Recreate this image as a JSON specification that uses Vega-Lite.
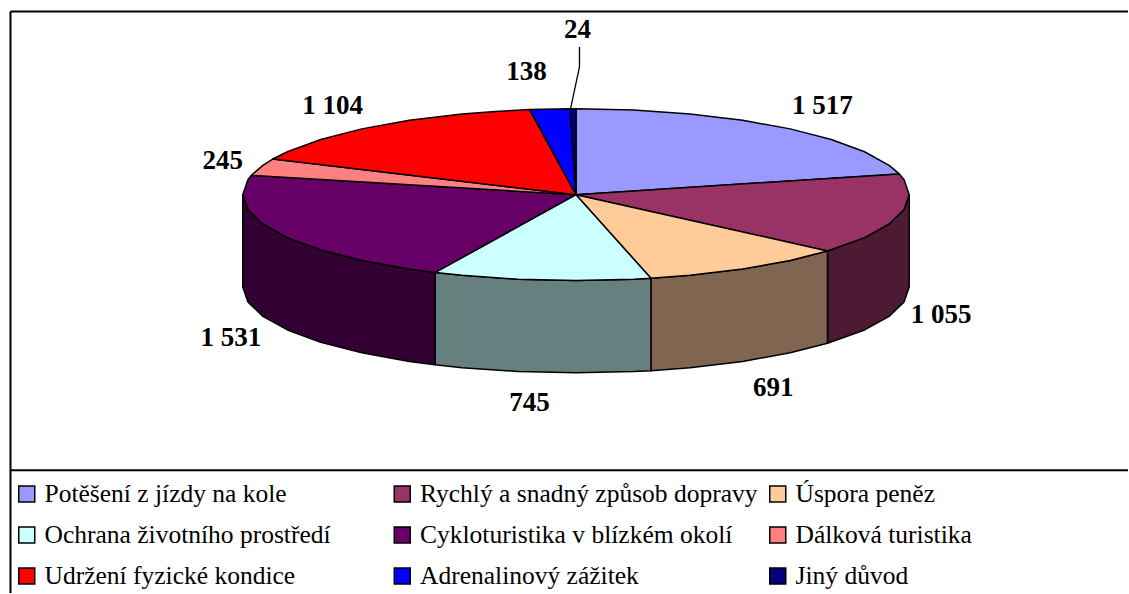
{"$schema":"https://vega.github.io/schema/vega-lite/v6.json","width":1129,"height":594,"padding":0,"autosize":{"type":"fit","contains":"padding"},"background":"white","config":{"view":{"stroke":null}},
"datasets":{
"frame":[{"u":-566,"v":183.5,"u2":552.5,"v2":183.5},{"u":-566,"v":183.5,"u2":-566,"v2":-399},{"u":-566,"v":-276,"u2":552.5,"v2":-276}],
"leader":[{"n":1,"u":3.5,"v":148},{"n":2,"u":3.5,"v":128},{"n":3,"u":-5.5,"v":86}],
"labels":[
{"slice":"Potěšení z jízdy na kole","value":1517,"label":"1 517","u":246.5,"v":80.5},
{"slice":"Rychlý a snadný způsob dopravy","value":1055,"label":"1 055","u":365.5,"v":-128.5},
{"slice":"Úspora peněz","value":691,"label":"691","u":197.5,"v":-201.5},
{"slice":"Ochrana životního prostředí","value":745,"label":"745","u":-46.5,"v":-216.5},
{"slice":"Cykloturistika v blízkém okolí","value":1531,"label":"1 531","u":-345.5,"v":-151.5},
{"slice":"Dálková turistika","value":245,"label":"245","u":-353.5,"v":25.5},
{"slice":"Udržení fyzické kondice","value":1104,"label":"1 104","u":-243.5,"v":80.5},
{"slice":"Adrenalinový zážitek","value":138,"label":"138","u":-49.5,"v":114.5},
{"slice":"Jiný důvod","value":24,"label":"24","u":1.5,"v":156.5}],
"walls":[
{"slice":"Rychlý a snadný způsob dopravy","n":1,"u":333.5,"v":0},{"slice":"Rychlý a snadný způsob dopravy","n":2,"u":328.4,"v":-14.9},{"slice":"Rychlý a snadný způsob dopravy","n":3,"u":313.4,"v":-29.4},{"slice":"Rychlý a snadný způsob dopravy","n":4,"u":288.8,"v":-43},{"slice":"Rychlý a snadný způsob dopravy","n":5,"u":251.7,"v":-56.4},{"slice":"Rychlý a snadný způsob dopravy","n":6,"u":251.7,"v":-148.9},{"slice":"Rychlý a snadný způsob dopravy","n":7,"u":288.8,"v":-135.5},{"slice":"Rychlý a snadný způsob dopravy","n":8,"u":313.4,"v":-121.9},{"slice":"Rychlý a snadný způsob dopravy","n":9,"u":328.4,"v":-107.4},{"slice":"Rychlý a snadný způsob dopravy","n":10,"u":333.5,"v":-92.5},{"slice":"Rychlý a snadný způsob dopravy","n":11,"u":333.5,"v":0},
{"slice":"Úspora peněz","n":1,"u":251.7,"v":-56.4},{"slice":"Úspora peněz","n":2,"u":214.4,"v":-65.9},{"slice":"Úspora peněz","n":3,"u":166.8,"v":-74.5},{"slice":"Úspora peněz","n":4,"u":114.1,"v":-80.8},{"slice":"Úspora peněz","n":5,"u":75,"v":-83.8},{"slice":"Úspora peněz","n":6,"u":75,"v":-176.3},{"slice":"Úspora peněz","n":7,"u":114.1,"v":-173.3},{"slice":"Úspora peněz","n":8,"u":166.8,"v":-167},{"slice":"Úspora peněz","n":9,"u":214.4,"v":-158.4},{"slice":"Úspora peněz","n":10,"u":251.7,"v":-148.9},{"slice":"Úspora peněz","n":11,"u":251.7,"v":-56.4},
{"slice":"Ochrana životního prostředí","n":1,"u":75,"v":-83.8},{"slice":"Ochrana životního prostředí","n":2,"u":57.9,"v":-84.7},{"slice":"Ochrana životního prostředí","n":3,"u":0,"v":-86},{"slice":"Ochrana životního prostředí","n":4,"u":-57.9,"v":-84.7},{"slice":"Ochrana životního prostředí","n":5,"u":-114.1,"v":-80.8},{"slice":"Ochrana životního prostředí","n":6,"u":-140.9,"v":-77.9},{"slice":"Ochrana životního prostředí","n":7,"u":-140.9,"v":-170.4},{"slice":"Ochrana životního prostředí","n":8,"u":-114.1,"v":-173.3},{"slice":"Ochrana životního prostředí","n":9,"u":-57.9,"v":-177.2},{"slice":"Ochrana životního prostředí","n":10,"u":0,"v":-178.5},{"slice":"Ochrana životního prostředí","n":11,"u":57.9,"v":-177.2},{"slice":"Ochrana životního prostředí","n":12,"u":75,"v":-176.3},{"slice":"Ochrana životního prostředí","n":13,"u":75,"v":-83.8},
{"slice":"Cykloturistika v blízkém okolí","n":1,"u":-140.9,"v":-77.9},{"slice":"Cykloturistika v blízkém okolí","n":2,"u":-166.8,"v":-74.5},{"slice":"Cykloturistika v blízkém okolí","n":3,"u":-214.4,"v":-65.9},{"slice":"Cykloturistika v blízkém okolí","n":4,"u":-255.5,"v":-55.3},{"slice":"Cykloturistika v blízkém okolí","n":5,"u":-288.8,"v":-43},{"slice":"Cykloturistika v blízkém okolí","n":6,"u":-313.4,"v":-29.4},{"slice":"Cykloturistika v blízkém okolí","n":7,"u":-328.4,"v":-14.9},{"slice":"Cykloturistika v blízkém okolí","n":8,"u":-333.5,"v":0},{"slice":"Cykloturistika v blízkém okolí","n":9,"u":-333.5,"v":-92.5},{"slice":"Cykloturistika v blízkém okolí","n":10,"u":-328.4,"v":-107.4},{"slice":"Cykloturistika v blízkém okolí","n":11,"u":-313.4,"v":-121.9},{"slice":"Cykloturistika v blízkém okolí","n":12,"u":-288.8,"v":-135.5},{"slice":"Cykloturistika v blízkém okolí","n":13,"u":-255.5,"v":-147.8},{"slice":"Cykloturistika v blízkém okolí","n":14,"u":-214.4,"v":-158.4},{"slice":"Cykloturistika v blízkém okolí","n":15,"u":-166.8,"v":-167},{"slice":"Cykloturistika v blízkém okolí","n":16,"u":-140.9,"v":-170.4},{"slice":"Cykloturistika v blízkém okolí","n":17,"u":-140.9,"v":-77.9}],
"wedges":[
{"slice":"Potěšení z jízdy na kole","n":0,"u":0,"v":0},{"slice":"Potěšení z jízdy na kole","n":1,"u":0,"v":86},{"slice":"Potěšení z jízdy na kole","n":2,"u":57.9,"v":84.7},{"slice":"Potěšení z jízdy na kole","n":3,"u":114.1,"v":80.8},{"slice":"Potěšení z jízdy na kole","n":4,"u":166.8,"v":74.5},{"slice":"Potěšení z jízdy na kole","n":5,"u":214.4,"v":65.9},{"slice":"Potěšení z jízdy na kole","n":6,"u":255.5,"v":55.3},{"slice":"Potěšení z jízdy na kole","n":7,"u":288.8,"v":43},{"slice":"Potěšení z jízdy na kole","n":8,"u":313.4,"v":29.4},{"slice":"Potěšení z jízdy na kole","n":9,"u":323.6,"v":20.8},{"slice":"Potěšení z jízdy na kole","n":10,"u":0,"v":0},
{"slice":"Rychlý a snadný způsob dopravy","n":0,"u":0,"v":0},{"slice":"Rychlý a snadný způsob dopravy","n":1,"u":323.6,"v":20.8},{"slice":"Rychlý a snadný způsob dopravy","n":2,"u":328.4,"v":14.9},{"slice":"Rychlý a snadný způsob dopravy","n":3,"u":333.5,"v":0},{"slice":"Rychlý a snadný způsob dopravy","n":4,"u":328.4,"v":-14.9},{"slice":"Rychlý a snadný způsob dopravy","n":5,"u":313.4,"v":-29.4},{"slice":"Rychlý a snadný způsob dopravy","n":6,"u":288.8,"v":-43},{"slice":"Rychlý a snadný způsob dopravy","n":7,"u":251.7,"v":-56.4},{"slice":"Rychlý a snadný způsob dopravy","n":8,"u":0,"v":0},
{"slice":"Úspora peněz","n":0,"u":0,"v":0},{"slice":"Úspora peněz","n":1,"u":251.7,"v":-56.4},{"slice":"Úspora peněz","n":2,"u":214.4,"v":-65.9},{"slice":"Úspora peněz","n":3,"u":166.8,"v":-74.5},{"slice":"Úspora peněz","n":4,"u":114.1,"v":-80.8},{"slice":"Úspora peněz","n":5,"u":75,"v":-83.8},{"slice":"Úspora peněz","n":6,"u":0,"v":0},
{"slice":"Ochrana životního prostředí","n":0,"u":0,"v":0},{"slice":"Ochrana životního prostředí","n":1,"u":75,"v":-83.8},{"slice":"Ochrana životního prostředí","n":2,"u":57.9,"v":-84.7},{"slice":"Ochrana životního prostředí","n":3,"u":0,"v":-86},{"slice":"Ochrana životního prostředí","n":4,"u":-57.9,"v":-84.7},{"slice":"Ochrana životního prostředí","n":5,"u":-114.1,"v":-80.8},{"slice":"Ochrana životního prostředí","n":6,"u":-140.9,"v":-77.9},{"slice":"Ochrana životního prostředí","n":7,"u":0,"v":0},
{"slice":"Cykloturistika v blízkém okolí","n":0,"u":0,"v":0},{"slice":"Cykloturistika v blízkém okolí","n":1,"u":-140.9,"v":-77.9},{"slice":"Cykloturistika v blízkém okolí","n":2,"u":-166.8,"v":-74.5},{"slice":"Cykloturistika v blízkém okolí","n":3,"u":-214.4,"v":-65.9},{"slice":"Cykloturistika v blízkém okolí","n":4,"u":-255.5,"v":-55.3},{"slice":"Cykloturistika v blízkém okolí","n":5,"u":-288.8,"v":-43},{"slice":"Cykloturistika v blízkém okolí","n":6,"u":-313.4,"v":-29.4},{"slice":"Cykloturistika v blízkém okolí","n":7,"u":-328.4,"v":-14.9},{"slice":"Cykloturistika v blízkém okolí","n":8,"u":-333.5,"v":0},{"slice":"Cykloturistika v blízkém okolí","n":9,"u":-328.4,"v":14.9},{"slice":"Cykloturistika v blízkém okolí","n":10,"u":-325,"v":19.3},{"slice":"Cykloturistika v blízkém okolí","n":11,"u":0,"v":0},
{"slice":"Dálková turistika","n":0,"u":0,"v":0},{"slice":"Dálková turistika","n":1,"u":-325,"v":19.3},{"slice":"Dálková turistika","n":2,"u":-313.4,"v":29.4},{"slice":"Dálková turistika","n":3,"u":-303.5,"v":35.7},{"slice":"Dálková turistika","n":4,"u":0,"v":0},
{"slice":"Udržení fyzické kondice","n":0,"u":0,"v":0},{"slice":"Udržení fyzické kondice","n":1,"u":-303.5,"v":35.7},{"slice":"Udržení fyzické kondice","n":2,"u":-288.8,"v":43},{"slice":"Udržení fyzické kondice","n":3,"u":-255.5,"v":55.3},{"slice":"Udržení fyzické kondice","n":4,"u":-214.4,"v":65.9},{"slice":"Udržení fyzické kondice","n":5,"u":-166.8,"v":74.5},{"slice":"Udržení fyzické kondice","n":6,"u":-114.1,"v":80.8},{"slice":"Udržení fyzické kondice","n":7,"u":-80.7,"v":83.4},{"slice":"Udržení fyzické kondice","n":8,"u":-46.4,"v":85.2},{"slice":"Udržení fyzické kondice","n":9,"u":0,"v":0},
{"slice":"Adrenalinový zážitek","n":0,"u":0,"v":0},{"slice":"Adrenalinový zážitek","n":1,"u":-46.4,"v":85.2},{"slice":"Adrenalinový zážitek","n":2,"u":-5.8,"v":86},{"slice":"Adrenalinový zážitek","n":3,"u":0,"v":0},
{"slice":"Jiný důvod","n":0,"u":0,"v":0},{"slice":"Jiný důvod","n":1,"u":-5.8,"v":86},{"slice":"Jiný důvod","n":2,"u":0,"v":86},{"slice":"Jiný důvod","n":3,"u":0,"v":0}]
},
"resolve":{"scale":{"color":"independent"}},
"layer":[
{"data":{"name":"walls"},"mark":{"type":"line","filled":true,"stroke":"black","strokeWidth":1.5,"strokeJoin":"round"},
"encoding":{"x":{"field":"u","type":"quantitative","axis":null,"scale":{"domain":[-576.5,552.5],"nice":false,"zero":false}},"y":{"field":"v","type":"quantitative","axis":null,"scale":{"domain":[-399,195],"nice":false,"zero":false}},"order":{"field":"n","type":"ordinal"},
"color":{"field":"slice","type":"nominal","legend":null,"scale":{"domain":["Rychlý a snadný způsob dopravy","Úspora peněz","Ochrana životního prostředí","Cykloturistika v blízkém okolí"],"range":["#4d1a33","#806650","#668080","#330033"]}}}},
{"data":{"name":"wedges"},"mark":{"type":"line","filled":true,"stroke":"black","strokeWidth":1.5,"strokeJoin":"round"},
"encoding":{"x":{"field":"u","type":"quantitative"},"y":{"field":"v","type":"quantitative"},"order":{"field":"n","type":"ordinal"},
"color":{"field":"slice","type":"nominal","sort":null,"scale":{"domain":["Potěšení z jízdy na kole","Ochrana životního prostředí","Udržení fyzické kondice","Rychlý a snadný způsob dopravy","Cykloturistika v blízkém okolí","Adrenalinový zážitek","Úspora peněz","Dálková turistika","Jiný důvod"],"range":["#9999ff","#ccffff","#ff0000","#993366","#660066","#0000ff","#ffcc99","#ff8080","#000080"]},
"legend":{"title":null,"orient":"none","legendX":14,"legendY":480,"columns":3,"gridAlign":"all","columnPadding":6.5,"rowPadding":13,"padding":0,"symbolType":"square","symbolSize":256,"symbolStrokeColor":"black","symbolStrokeWidth":1.5,"symbolOpacity":1,"labelFont":"Liberation Serif","labelFontSize":25.5,"labelColor":"black","labelOffset":5,"labelLimit":400,"clipHeight":28}}}},
{"data":{"name":"frame"},"mark":{"type":"rule","stroke":"black","strokeWidth":2},"encoding":{"x":{"field":"u","type":"quantitative"},"y":{"field":"v","type":"quantitative"},"x2":{"field":"u2"},"y2":{"field":"v2"}}},
{"data":{"name":"leader"},"mark":{"type":"line","stroke":"black","strokeWidth":1.3},"encoding":{"x":{"field":"u","type":"quantitative"},"y":{"field":"v","type":"quantitative"},"order":{"field":"n","type":"ordinal"}}},
{"data":{"name":"labels"},"mark":{"type":"text","font":"Liberation Serif","fontWeight":"bold","fontSize":27,"align":"center","baseline":"alphabetic","color":"black"},"encoding":{"x":{"field":"u","type":"quantitative"},"y":{"field":"v","type":"quantitative"},"text":{"field":"label"}}}
]}
